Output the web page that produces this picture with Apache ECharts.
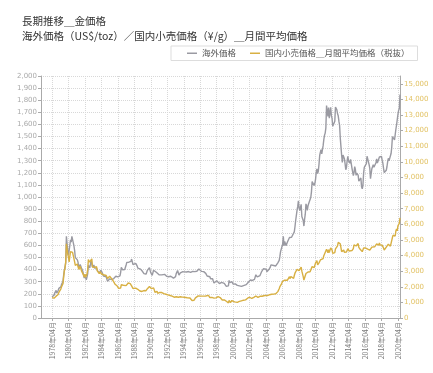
<!DOCTYPE html>
<html><head><meta charset="utf-8">
<script src="https://cdn.jsdelivr.net/npm/echarts@6/dist/echarts.min.js"></script>
<style>html,body{margin:0;padding:0;background:#fff}#c{width:433px;height:373px}</style>
</head><body><div id="c"></div>
<script>
// monthly series start
const startYear = 1978, startMonth = 4;
// 海外価格 US$/toz (monthly average), 1978-04 .. 2020-07
const usdPrice = [
175,177,183,188,206,212,228,206,208,
227,245,242,239,257,279,295,301,355,392,392,456,
675,665,554,517,513,600,645,627,674,661,623,595,
557,500,499,495,480,460,409,410,443,437,413,410,
384,374,330,350,334,315,339,364,435,422,414,444,
481,491,420,432,438,413,422,416,412,394,382,388,
371,387,395,381,377,378,347,348,341,340,341,320,
303,299,304,324,316,317,317,330,323,326,325,322,
345,339,346,340,342,343,348,376,418,423,398,391,
408,401,408,438,460,450,451,461,460,465,468,487,
477,442,443,452,451,452,437,431,413,406,420,419,
404,388,390,384,371,367,375,365,362,367,394,409,
410,417,393,374,369,352,362,395,389,380,381,378,
384,364,363,358,357,367,368,356,349,359,360,361,
354,354,345,338,337,341,353,340,345,344,335,335,
329,329,330,342,367,372,392,379,355,364,373,383,
387,382,384,377,381,386,385,380,391,389,384,379,
379,377,382,391,385,387,386,383,383,383,386,387,
400,405,396,393,392,385,383,387,383,381,378,369,
355,347,352,344,344,341,324,324,323,325,306,289,
289,297,296,308,299,292,293,284,289,296,294,291,
287,287,286,282,277,262,256,257,265,311,293,283,
285,300,286,280,275,285,282,274,273,270,266,272,
266,262,263,261,272,270,268,273,284,283,276,276,
282,296,294,302,314,322,314,310,319,317,319,333,
357,359,340,328,355,356,351,359,379,379,389,407,
414,405,406,404,383,392,398,400,405,420,439,442,
424,423,434,429,422,430,424,438,456,470,476,509,
549,555,557,610,676,596,633,632,598,586,628,629,
631,665,655,679,667,655,665,665,712,754,806,803,
889,922,968,909,888,889,939,839,829,806,760,816,
858,943,924,890,928,946,934,949,996,1043,1127,1134,
1118,1095,1113,1148,1205,1233,1193,1215,1271,1343,1370,1391,
1356,1372,1424,1474,1510,1528,1572,1756,1772,1665,1739,1652,
1656,1742,1673,1650,1585,1596,1594,1626,1744,1747,1721,1688,
1671,1627,1593,1487,1414,1343,1286,1347,1349,1316,1275,1225,
1244,1300,1336,1299,1288,1279,1311,1296,1239,1223,1176,1200,
1251,1227,1179,1198,1199,1181,1131,1117,1125,1157,1086,1068,
1097,1199,1246,1242,1260,1276,1337,1341,1326,1267,1236,1152,
1192,1234,1231,1266,1246,1260,1236,1283,1315,1280,1282,1265,
1331,1331,1325,1335,1304,1281,1238,1202,1198,1215,1221,1250,
1291,1320,1300,1285,1284,1359,1413,1500,1510,1495,1471,1480,
1560,1597,1591,1683,1715,1732,1846
];
// 国内小売価格 円/g (monthly average, tax excluded), 1978-04 .. 2020-07
const jpyPrice = [
1310,1340,1320,1270,1320,1360,1400,1350,1370,
1510,1640,1670,1740,1870,2010,2120,2190,2610,3030,3190,3580,
4750,4800,4100,3900,3600,3950,4250,4200,4350,4200,4000,3800,
3600,3370,3410,3480,3460,3370,3110,3130,3310,3320,3020,2950,
2840,2890,2620,2810,2610,2600,2840,3090,3740,3740,3570,3510,
3650,3790,3270,3370,3370,3250,3320,3320,3280,3020,2950,2980,
2840,2970,2930,2820,2860,2890,2770,2770,2750,2750,2720,2600,
2530,2560,2580,2670,2610,2600,2520,2570,2520,2310,2190,2160,
2280,2070,2050,1970,1900,1900,1840,1920,2130,2180,2130,2100,
2080,2050,2040,2070,2130,2140,2240,2240,2180,2200,2090,2060,
2020,1890,1880,1880,1870,1910,1930,1900,1840,1740,1730,1730,
1710,1660,1700,1690,1710,1760,1750,1730,1750,1740,1880,1950,
1970,2020,1990,1960,1880,1790,1790,1930,1800,1650,1640,1690,
1710,1580,1660,1650,1640,1700,1690,1630,1560,1570,1560,1550,
1480,1520,1540,1510,1480,1450,1490,1440,1420,1410,1400,1400,
1380,1330,1300,1290,1360,1340,1420,1330,1260,1310,1360,1400,
1440,1340,1360,1310,1330,1350,1290,1280,1300,1290,1270,1280,
1280,1250,1170,1120,1110,1120,1140,1220,1290,1300,1330,1330,
1420,1440,1410,1410,1400,1400,1400,1390,1400,1430,1420,1410,
1410,1430,1440,1450,1380,1310,1260,1290,1320,1320,1290,1270,
1260,1250,1290,1370,1360,1370,1390,1380,1310,1210,1200,1150,
1100,1130,1160,1150,1150,1070,1050,990,970,1120,1040,990,
1020,1120,1030,1010,1010,1030,1040,1010,1000,1000,990,1040,
1060,1040,1080,1100,1130,1120,1140,1120,1140,1160,1140,1190,
1270,1340,1300,1330,1340,1340,1250,1250,1300,1320,1300,1360,
1410,1430,1350,1320,1410,1410,1390,1420,1450,1390,1420,1460,
1470,1440,1470,1450,1440,1430,1450,1470,1490,1530,1530,1520,
1460,1490,1530,1550,1500,1550,1590,1610,1690,1780,1870,2010,
2090,2150,2160,2350,2470,2240,2420,2420,2310,2300,2420,2430,
2490,2650,2520,2660,2650,2650,2650,2540,2720,2870,2940,2950,
3120,3230,3170,3040,3030,3120,3260,3000,2890,2650,2430,2450,
2540,2850,2970,2890,2950,3010,2910,2960,2970,3080,3290,3340,
3330,3230,3280,3530,3620,3670,3400,3380,3530,3600,3720,3770,
3680,3680,3810,3990,3990,4040,4050,4410,4450,4180,4370,4200,
4160,4490,4520,4360,4140,4110,4110,4190,4430,4500,4540,4620,
4840,4930,4930,4750,4650,4250,4190,4300,4350,4210,4160,4160,
4220,4320,4440,4320,4280,4250,4360,4350,4320,4310,4450,4690,
4810,4750,4610,4680,4690,4770,4530,4510,4400,4520,4350,4250,
4220,4490,4590,4450,4480,4410,4530,4410,4410,4300,4350,4360,
4470,4540,4530,4540,4550,4560,4550,4600,4750,4710,4720,4660,
4810,4680,4580,4650,4670,4590,4480,4350,4370,4440,4540,4600,
4580,4730,4700,4690,4600,4780,4970,5170,5300,5250,5220,5250,
5580,5710,5580,5900,5960,6070,6410
];
const seriesNames = ['海外価格', '国内小売価格＿月間平均価格（税抜）'];
const titleLines = ['長期推移＿金価格', '海外価格（US$/toz）／国内小売価格（¥/g）＿月間平均価格'];

const months = [];
for (let i = 0; i < usdPrice.length; i++) {
  const t = startYear * 12 + (startMonth - 1) + i;
  const y = Math.floor(t / 12), m = t % 12 + 1;
  months.push(y + '年' + (m < 10 ? '0' : '') + m + '月');
}

const chart = echarts.init(document.getElementById('c'), null, {renderer: 'canvas'});
const FONT = '"Noto Sans CJK JP", "Noto Sans", sans-serif';
chart.setOption({
  animation: false,
  backgroundColor: '#fff',
  textStyle: {fontFamily: FONT},
  title: {
    text: titleLines.join('\n'),
    left: 17, top: 9,
    textStyle: {fontSize: 10.5, fontWeight: 'normal', color: '#333', lineHeight: 15, fontFamily: FONT}
  },
  legend: {
    data: seriesNames,
    left: 171, top: 46,
    borderColor: '#ddd', borderWidth: 1,
    padding: [3, 8, 3, 16],
    icon: 'rect',
    itemGap: 14, itemWidth: 10, itemHeight: 1.5,
    textStyle: {fontSize: 8.5, color: '#555', fontFamily: FONT}
  },
  grid: {left: 41, right: 33, top: 76, bottom: 55},
  xAxis: {
    type: 'category', data: months, boundaryGap: false, min: -16,
    axisLine: {lineStyle: {color: '#aaa'}},
    axisTick: {show: true, interval: 23, length: 3, lineStyle: {color: '#aaa'}},
    axisLabel: {interval: 23, rotate: 90, fontSize: 7, color: '#777', margin: 4, fontFamily: FONT},
    splitLine: {show: true, interval: 23, lineStyle: {type: 'dotted', color: '#d8d8d8'}}
  },
  yAxis: [{
    type: 'value', position: 'left', min: 0, max: 2000, interval: 100,
    axisLine: {show: true, lineStyle: {color: '#aaa'}},
    axisTick: {show: true, length: 3, lineStyle: {color: '#aaa'}},
    axisLabel: {fontSize: 7, color: '#aaa', margin: 4, fontFamily: 'DejaVu Sans'},
    splitLine: {show: true, lineStyle: {type: 'dotted', color: '#d8d8d8'}}
  }, {
    type: 'value', position: 'right', min: 0, max: 15500, interval: 1000,
    axisLine: {show: true, lineStyle: {color: '#aaa'}},
    axisTick: {show: true, length: 3, lineStyle: {color: '#aaa'}},
    axisLabel: {fontSize: 7, color: '#e2c264', margin: 4, showMaxLabel: false, fontFamily: 'DejaVu Sans'},
    splitLine: {show: false}
  }],
  series: [{
    name: seriesNames[0], type: 'line', yAxisIndex: 0, data: usdPrice,
    symbol: 'none', color: '#9a9aa2', lineStyle: {width: 1.4, color: '#9a9aa2'}
  }, {
    name: seriesNames[1], type: 'line', yAxisIndex: 1, data: jpyPrice,
    symbol: 'none', color: '#d8b043', lineStyle: {width: 1.4, color: '#d8b043'}
  }]
});
</script></body></html>
